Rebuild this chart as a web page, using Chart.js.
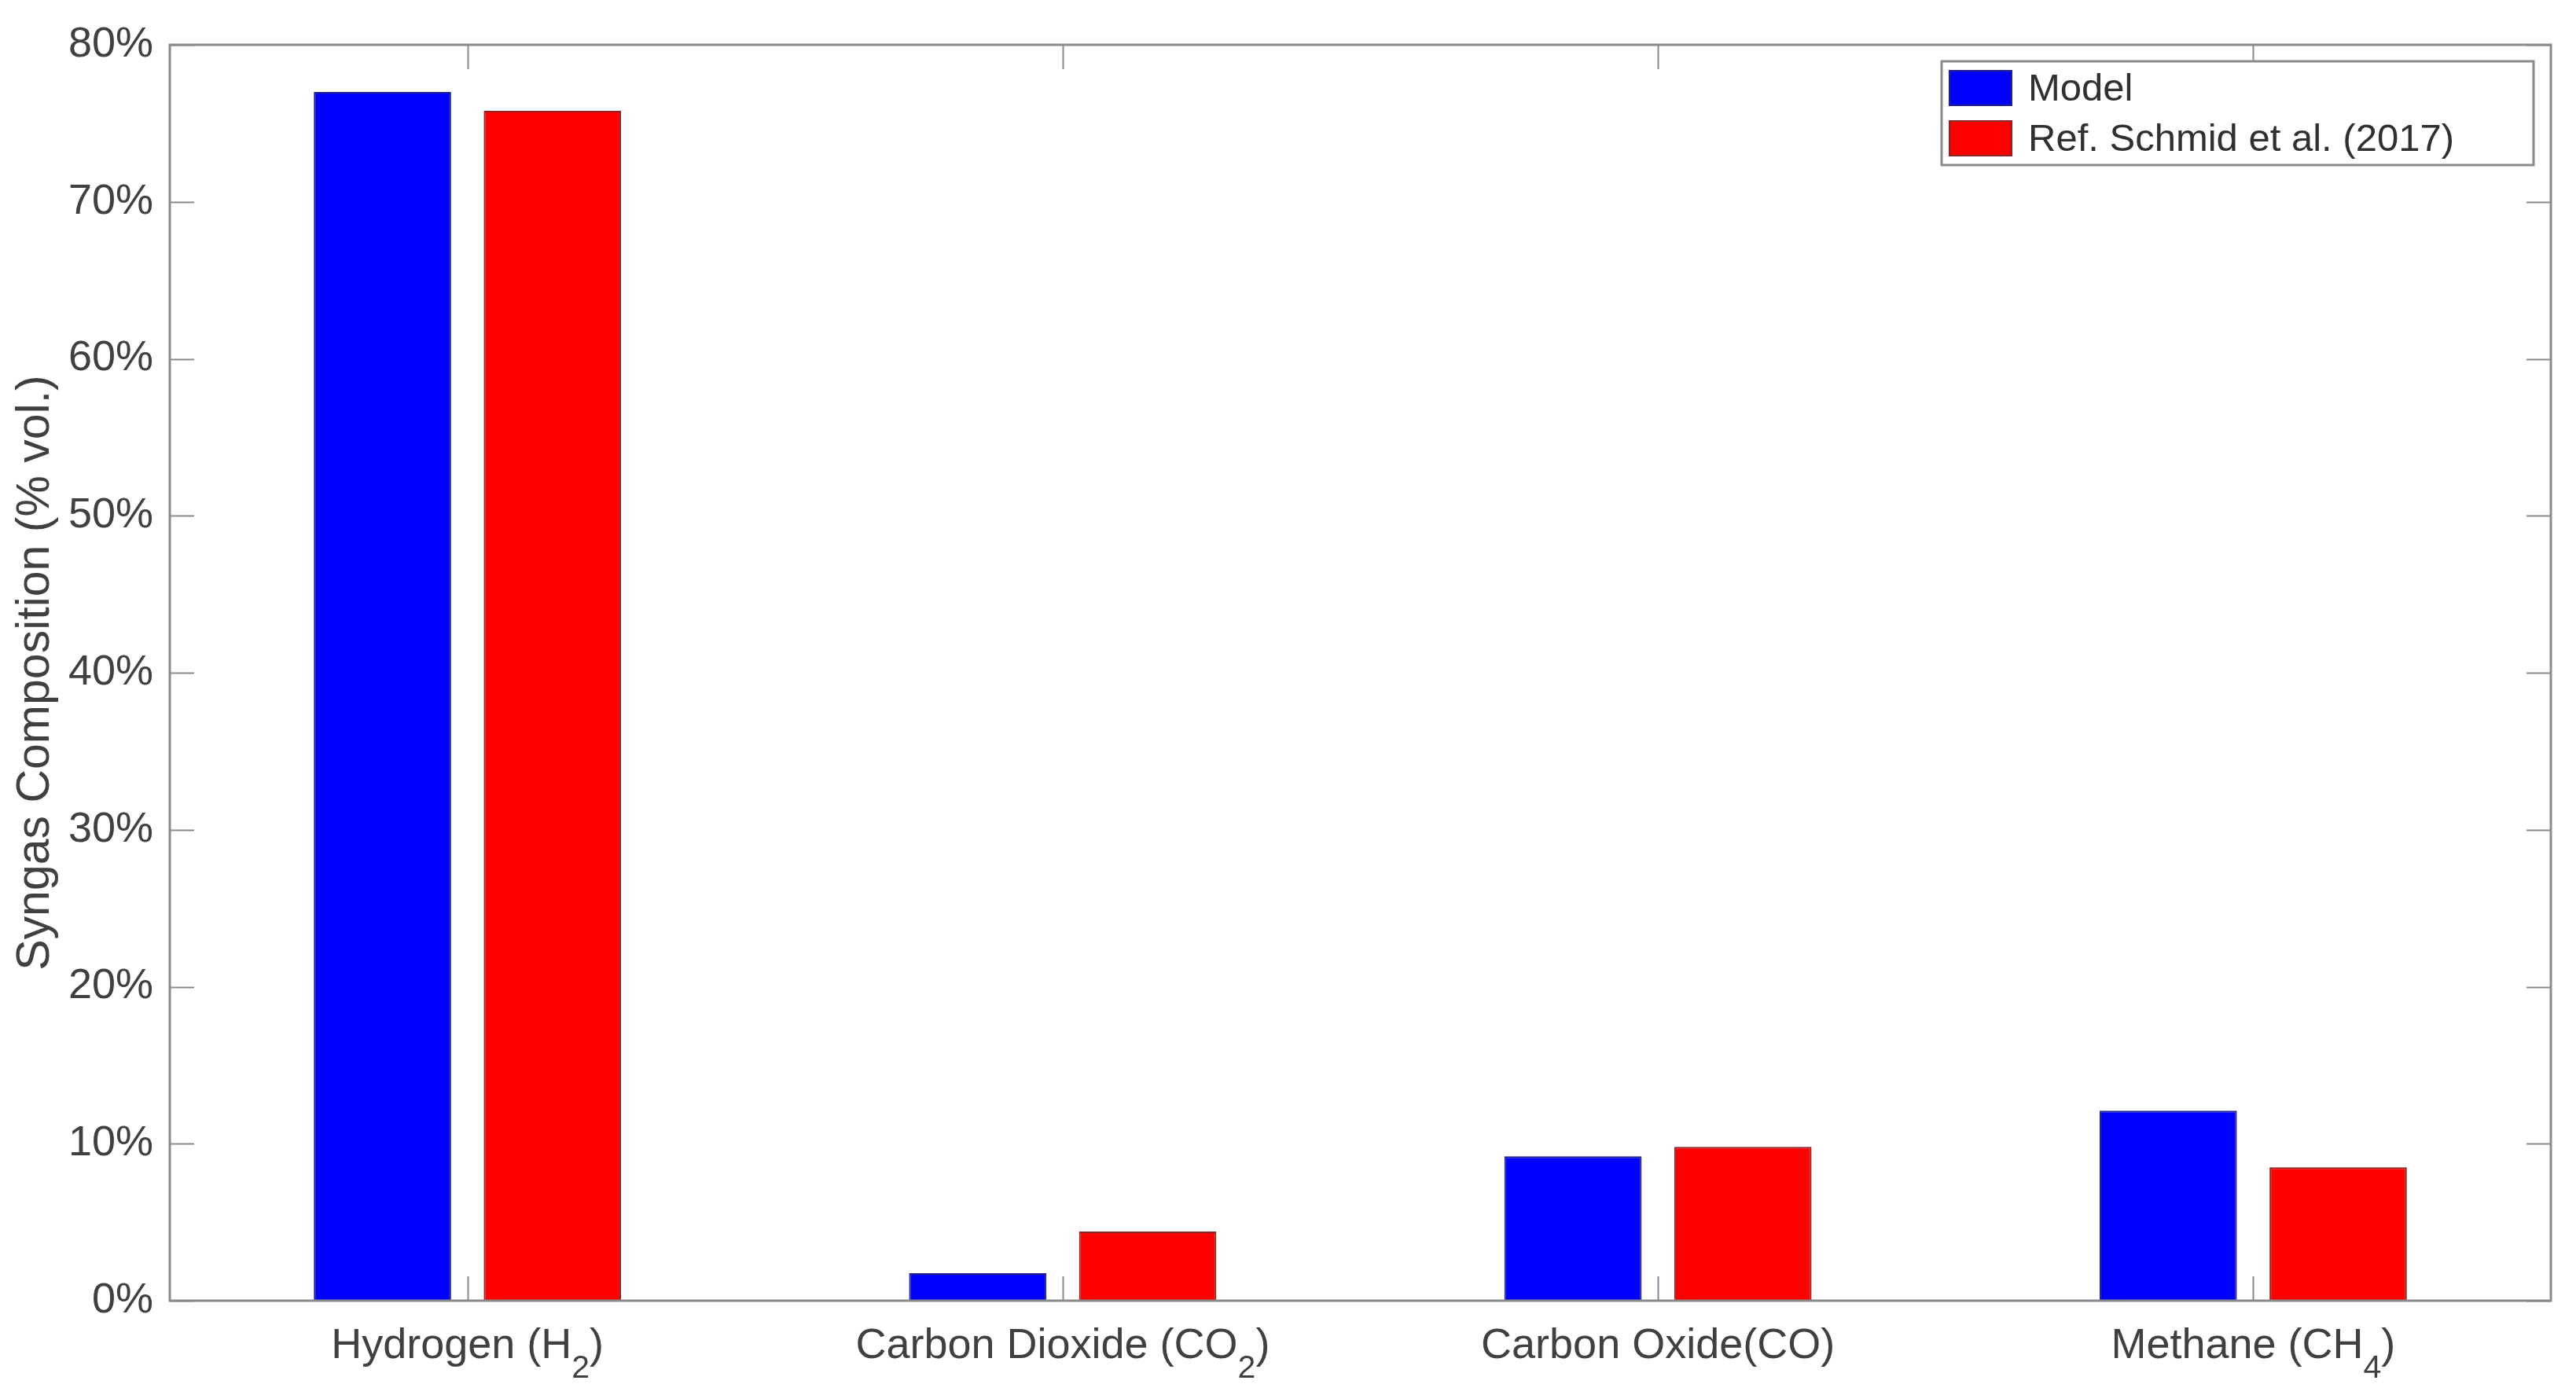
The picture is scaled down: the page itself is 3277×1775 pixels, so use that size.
<!DOCTYPE html>
<html><head><meta charset="utf-8">
<script src="https://cdn.jsdelivr.net/npm/chart.js@4.4.1/dist/chart.umd.min.js"></script>
<style>html,body{margin:0;padding:0;background:#fff;overflow:hidden}#wrap{width:3277px;height:1775px;position:relative}</style>
</head><body><div id="wrap"><canvas id="c" width="3277" height="1775"></canvas></div>
<script>
const categories = ['Hydrogen (H\u2082)', 'Carbon Dioxide (CO\u2082)', 'Carbon Oxide(CO)', 'Methane (CH\u2084)'];
const seriesNames = ['Model', 'Ref. Schmid et al. (2017)'];
const modelValues = [77.0, 1.75, 9.2, 12.1];
const refValues = [75.8, 4.4, 9.8, 8.5];
const yTicks = [0, 10, 20, 30, 40, 50, 60, 70, 80];
const yAxisTitle = 'Syngas Composition (% vol.)';

const FONT = "'Liberation Sans', Arial, Helvetica, sans-serif";
const AXIS_COLOR = '#8a8a8a';
const TEXT_COLOR = '#404040';
const SUBS = {'\u2080':'0','\u2081':'1','\u2082':'2','\u2083':'3','\u2084':'4','\u2085':'5','\u2086':'6','\u2087':'7','\u2088':'8','\u2089':'9'};

function splitRuns(str) {
  const runs = [];
  for (const ch of str) {
    const sub = ch in SUBS;
    const c = sub ? SUBS[ch] : ch;
    if (runs.length && runs[runs.length - 1].sub === sub) runs[runs.length - 1].t += c;
    else runs.push({t: c, sub});
  }
  return runs;
}

const matlabAxes = {
  id: 'matlabAxes',
  afterDatasetsDraw(chart) {
    const {ctx, chartArea: ca, scales: {x, y}} = chart;
    ctx.save();
    ctx.strokeStyle = AXIS_COLOR;
    ctx.lineWidth = 2;
    const tl = 31;
    ctx.beginPath();
    y.ticks.forEach(t => {
      const py = Math.round(y.getPixelForValue(t.value)) + 0.5;
      ctx.moveTo(ca.left, py); ctx.lineTo(ca.left + tl, py);
      ctx.moveTo(ca.right, py); ctx.lineTo(ca.right - tl, py);
    });
    categories.forEach((c, i) => {
      const px = Math.round(x.getPixelForValue(i)) + 0.5;
      ctx.moveTo(px, ca.bottom); ctx.lineTo(px, ca.bottom - tl);
      ctx.moveTo(px, ca.top); ctx.lineTo(px, ca.top + tl);
    });
    ctx.stroke();
    ctx.lineWidth = 3;
    ctx.strokeRect(ca.left, ca.top, ca.right - ca.left, ca.bottom - ca.top);

    // category labels with TeX-like subscripts
    ctx.fillStyle = TEXT_COLOR;
    ctx.textBaseline = 'alphabetic';
    ctx.textAlign = 'left';
    const mainFont = '54px ' + FONT, subFont = '41px ' + FONT;
    const base = ca.bottom + 73;
    chart.data.labels.forEach((lab, i) => {
      const runs = splitRuns(lab);
      let total = 0;
      runs.forEach(r => { ctx.font = r.sub ? subFont : mainFont; r.w = ctx.measureText(r.t).width; total += r.w; });
      let cx = x.getPixelForValue(i) - total / 2;
      runs.forEach(r => {
        ctx.font = r.sub ? subFont : mainFont;
        ctx.fillText(r.t, cx, r.sub ? base + 25 : base);
        cx += r.w;
      });
    });
    ctx.restore();
  },
  afterDraw(chart) {
    const {ctx, chartArea: ca} = chart;
    const w = 753, h = 132;
    const lx = ca.right - 22 - w, ly = ca.top + 21;
    ctx.save();
    ctx.fillStyle = '#fff';
    ctx.fillRect(lx, ly, w, h);
    ctx.strokeStyle = AXIS_COLOR;
    ctx.lineWidth = 3;
    ctx.strokeRect(lx, ly, w, h);
    chart.data.datasets.forEach((ds, i) => {
      const sy = ly + 11 + i * 64;
      ctx.fillStyle = ds.backgroundColor;
      ctx.fillRect(lx + 9, sy, 81, 46);
      ctx.strokeStyle = ds.borderColor;
      ctx.lineWidth = 2;
      ctx.strokeRect(lx + 10, sy + 1, 79, 44);
      ctx.fillStyle = '#303030';
      ctx.font = '49px ' + FONT;
      ctx.textBaseline = 'middle';
      ctx.textAlign = 'left';
      ctx.fillText(ds.label, lx + 110, sy + 25);
    });
    ctx.restore();
  }
};

new Chart(document.getElementById('c'), {
  type: 'bar',
  data: {
    labels: categories,
    datasets: [
      {label: seriesNames[0], data: modelValues, backgroundColor: '#0000ff', borderColor: '#22228a', borderWidth: 2},
      {label: seriesNames[1], data: refValues, backgroundColor: '#ff0000', borderColor: '#8a2626', borderWidth: 2}
    ]
  },
  options: {
    responsive: false,
    animation: false,
    devicePixelRatio: 1,
    categoryPercentage: 0.571,
    barPercentage: 0.808,
    layout: {padding: {left: 0, top: 57, right: 32, bottom: 0}},
    plugins: {legend: {display: false}, tooltip: {enabled: false}},
    scales: {
      x: {
        grid: {display: false, drawTicks: false},
        border: {display: false},
        ticks: {display: false, autoSkip: false, maxRotation: 0, minRotation: 0},
        afterFit(s) { s.height = 120; }
      },
      y: {
        min: 0, max: 80,
        grid: {display: false, drawTicks: false},
        border: {display: false},
        afterBuildTicks(s) { s.ticks = yTicks.map(v => ({value: v})); },
        ticks: {color: TEXT_COLOR, font: {family: FONT, size: 54}, padding: 21, callback: v => v + '%'},
        title: {display: true, text: yAxisTitle, color: TEXT_COLOR, font: {family: FONT, size: 59}, padding: {top: 10, bottom: 0}},
        afterFit(s) { s.width = 216; }
      }
    }
  },
  plugins: [matlabAxes]
});
</script></body></html>
